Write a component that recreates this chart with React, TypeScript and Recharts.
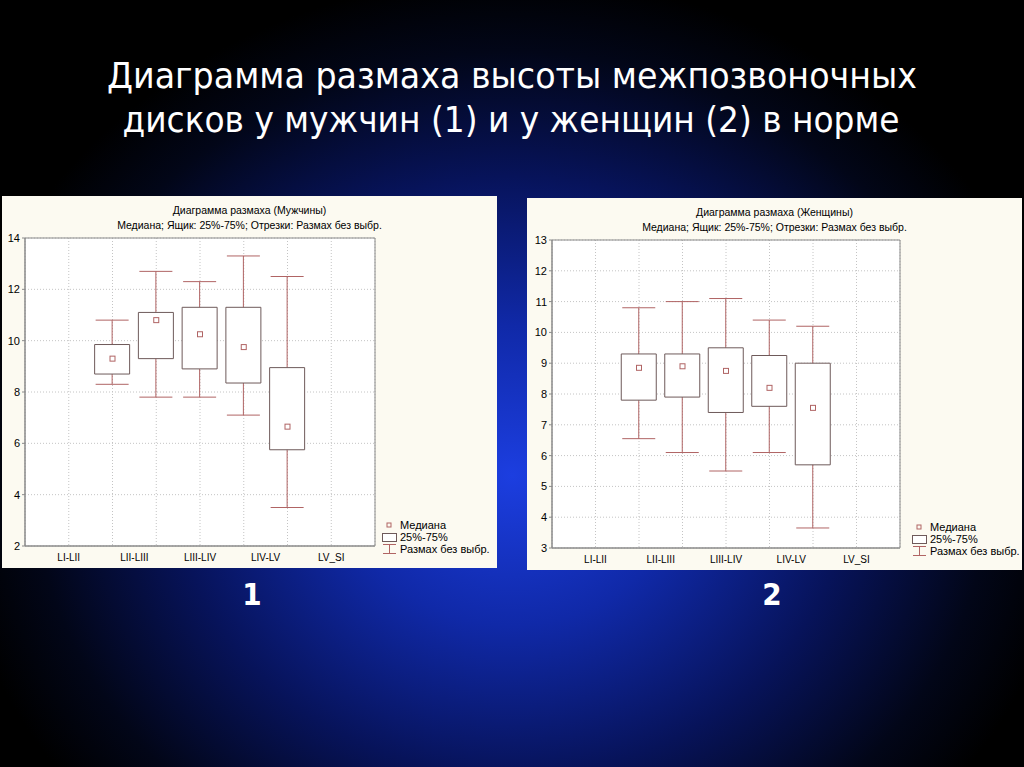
import React from 'react'
import {
  ComposedChart,
  Bar,
  Scatter,
  XAxis,
  YAxis,
  CartesianGrid,
  ReferenceArea,
} from 'recharts'

// categories and where the program put their labels / boxes on the 0..8 axis
const categories = ['LI-LII', 'LII-LIII', 'LIII-LIV', 'LIV-LV', 'LV_SI']
const labelPositions = [1, 2.5, 4, 5.5, 7]
const boxPositions = [2, 3, 4, 5, 6]
const gridPositions = [1, 2, 3, 4, 5, 6, 7]

// men (1)
const menMin = [8.3, 7.8, 7.8, 7.1, 3.5]
const menQ1 = [8.7, 9.3, 8.9, 8.35, 5.75]
const menMedian = [9.3, 10.8, 10.25, 9.75, 6.65]
const menQ3 = [9.85, 11.1, 11.3, 11.3, 8.95]
const menMax = [10.8, 12.7, 12.3, 13.3, 12.5]
const menTicks = [2, 4, 6, 8, 10, 12, 14]

// women (2)
const womenMin = [6.55, 6.1, 5.5, 6.1, 3.65]
const womenQ1 = [7.8, 7.9, 7.4, 7.6, 5.7]
const womenMedian = [8.85, 8.9, 8.75, 8.2, 7.55]
const womenQ3 = [9.3, 9.3, 9.5, 9.25, 9.0]
const womenMax = [10.8, 11.0, 11.1, 10.4, 10.2]
const womenTicks = [3, 4, 5, 6, 7, 8, 9, 10, 11, 12, 13]

const RED = '#b06464'
const BOX = '#6e5a5a'
const AXIS = '#8a8a8a'
const PANEL_BG = '#fcfaf1'
const FONT = '"Liberation Sans", Arial, sans-serif'

const buildRows = (min: number[], q1: number[], med: number[], q3: number[], max: number[]) =>
  boxPositions.map((x, i) => ({
    x,
    range: [min[i], max[i]],
    box: [q1[i], q3[i]],
    median: med[i],
  }))

const menRows = buildRows(menMin, menQ1, menMedian, menQ3, menMax)
const womenRows = buildRows(womenMin, womenQ1, womenMedian, womenQ3, womenMax)

const Whisker = (p: any) => {
  const { x, y, width, height } = p
  if (height == null) return <g />
  const cx = x + width / 2
  return (
    <g stroke={RED} strokeWidth={1}>
      <line x1={cx} y1={y} x2={cx} y2={y + height} />
      <line x1={x} y1={y} x2={x + width} y2={y} />
      <line x1={x} y1={y + height} x2={x + width} y2={y + height} />
    </g>
  )
}

const MedianMark = (p: any) => (
  <rect x={p.cx - 2.5} y={p.cy - 2.5} width={5} height={5} fill="#fff" stroke={RED} />
)

const BoxLegend = ({ left, top }: { left: number; top: number }) => (
  <div style={{ position: 'absolute', left, top, fontFamily: FONT, fontSize: 11, lineHeight: '12px', color: '#000', whiteSpace: 'nowrap' }}>
    <div style={{ display: 'flex', alignItems: 'center' }}>
      <svg width={18} height={12}><rect x={5} y={4} width={4} height={4} fill="none" stroke={RED} /></svg>
      Медиана
    </div>
    <div style={{ display: 'flex', alignItems: 'center' }}>
      <svg width={18} height={12}><rect x={0.5} y={2.5} width={14} height={8} fill="#fff" stroke={BOX} /></svg>
      25%-75%
    </div>
    <div style={{ display: 'flex', alignItems: 'center' }}>
      <svg width={18} height={12}>
        <g stroke={RED}>
          <line x1={1} y1={1.5} x2={14} y2={1.5} />
          <line x1={7.5} y1={1.5} x2={7.5} y2={10.5} />
          <line x1={1} y1={10.5} x2={14} y2={10.5} />
        </g>
      </svg>
      Размах без выбр.
    </div>
  </div>
)

interface PanelProps {
  who: string
  rows: any[]
  ticks: number[]
  left: number
  top: number
  yWidth: number
  legendLeft: number
}

const BoxPanel: React.FC<PanelProps> = ({ who, rows, ticks, left, top, yWidth, legendLeft }) => {
  const W = 495
  const H = 372
  const yMin = ticks[0]
  const yMax = ticks[ticks.length - 1]
  return (
    <div style={{ position: 'absolute', left, top, width: W, height: H, background: PANEL_BG }}>
      <div style={{ position: 'absolute', left: 0, top: 7, width: '100%', textAlign: 'center', fontFamily: FONT, fontSize: 10.5, lineHeight: '15px', color: '#000' }}>
        <div>Диаграмма размаха ({who})</div>
        <div>Медиана; Ящик: 25%-75%; Отрезки: Размах без выбр.</div>
      </div>
      <ComposedChart width={W} height={H} data={rows} margin={{ top: 42, right: 122, bottom: 0, left: 0 }}>
        <CartesianGrid xAxisId="pos" fill="#ffffff" stroke="#c4c4c4" strokeDasharray="1 2" />
        <XAxis xAxisId="pos" dataKey="x" type="number" domain={[0, 8]} ticks={gridPositions} hide />
        <XAxis xAxisId="whisk" dataKey="x" type="number" domain={[0, 8]} hide />
        <XAxis
          xAxisId="lbl"
          dataKey="x"
          type="number"
          domain={[0, 8]}
          ticks={labelPositions}
          interval={0}
          height={22}
          tickFormatter={(v: number) => categories[labelPositions.indexOf(v)] ?? ''}
          tick={{ fontSize: 10, fill: '#000', fontFamily: FONT }}
          tickLine={false}
          axisLine={{ stroke: AXIS }}
        />
        <YAxis
          type="number"
          domain={[yMin, yMax]}
          ticks={ticks}
          interval={0}
          width={yWidth}
          tick={{ fontSize: 11, fill: '#000', fontFamily: FONT }}
          tickSize={3}
          tickLine={{ stroke: AXIS }}
          axisLine={{ stroke: AXIS }}
        />
        <ReferenceArea xAxisId="pos" x1={0} x2={8} y1={yMin} y2={yMax} fill="none" fillOpacity={0} stroke={AXIS} />
        <Bar xAxisId="whisk" dataKey="range" barSize={33} shape={Whisker} isAnimationActive={false} />
        <Bar xAxisId="pos" dataKey="box" barSize={35} fill="#ffffff" stroke={BOX} isAnimationActive={false} />
        <Scatter xAxisId="pos" dataKey="median" shape={MedianMark} isAnimationActive={false} />
      </ComposedChart>
      <BoxLegend left={legendLeft} top={323} />
    </div>
  )
}

export default function App() {
  return (
    <div
      style={{
        position: 'absolute',
        left: 0,
        top: 0,
        width: 1024,
        height: 767,
        overflow: 'hidden',
        background:
          'radial-gradient(ellipse 55% 65% at 50% 62%, #1c3ee0 0%, #1029a8 30%, #07135a 60%, #020618 85%, #000 100%)',
      }}
    >
      <svg width={1024} height={767} style={{ position: 'absolute', left: 0, top: 0 }}>
        <g fill="#ffffff" fontFamily='"Liberation Sans Narrow", "DejaVu Sans Condensed", sans-serif' textAnchor="middle">
          <text x={512} y={88} fontSize={35} textLength={810} lengthAdjust="spacingAndGlyphs">
            Диаграмма размаха высоты межпозвоночных
          </text>
          <text x={511} y={132} fontSize={35} textLength={777} lengthAdjust="spacingAndGlyphs">
            дисков у мужчин (1) и у женщин (2) в норме
          </text>
          <text x={252} y={605} fontSize={31} fontWeight="bold">1</text>
          <text x={772} y={605} fontSize={31} fontWeight="bold">2</text>
        </g>
      </svg>
      <BoxPanel who="Мужчины" rows={menRows} ticks={menTicks} left={2} top={196} yWidth={23} legendLeft={380} />
      <BoxPanel who="Женщины" rows={womenRows} ticks={womenTicks} left={527} top={198} yWidth={25} legendLeft={385} />
    </div>
  )
}
